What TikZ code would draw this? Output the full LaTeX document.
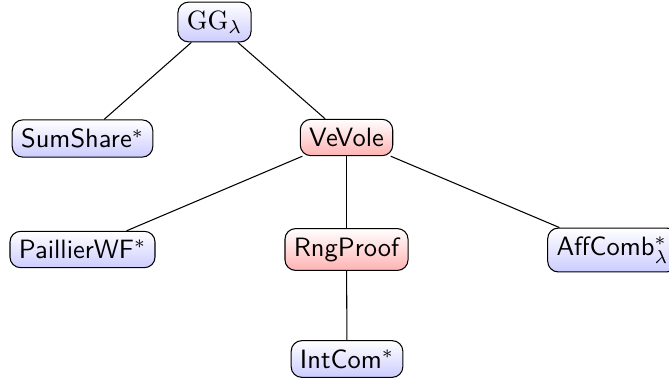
\documentclass[tikz,border=0pt]{standalone}
\usetikzlibrary{shadings}
\begin{document}
\begin{tikzpicture}[x=0.3774pt,y=-0.3774pt,
  bluebox/.style={draw,rounded corners=4pt,top color=white,bottom color=blue!20,font=\sffamily,inner sep=0.3333em},
  redbox/.style={draw,rounded corners=4pt,top color=white,bottom color=red!30,font=\sffamily,inner sep=0.3333em}]
\useasboundingbox[clip] (0,0) rectangle (669,381);
\node[bluebox] (gg) at (214.5,22) {$\mathrm{GG}_\lambda$};
\node[bluebox] (ss) at (82.5,138.5) {SumShare$^*$};
\node[redbox] (vv) at (346.5,137.5) {VeVole};
\node[bluebox] (pw) at (82.5,249.5) {PaillierWF$^*$};
\node[redbox] (rp) at (346.5,249.5) {RngProof};
\node[bluebox] (ac) at (612.5,250) {AffComb$^*_\lambda$};
\node[bluebox] (ic) at (347,359) {IntCom$^*$};
\draw (gg) -- (ss);
\draw (gg) -- (vv);
\draw (vv) -- (pw);
\draw (vv) -- (rp);
\draw (vv) -- (ac);
\draw (rp) -- (ic);
\end{tikzpicture}
\end{document}
